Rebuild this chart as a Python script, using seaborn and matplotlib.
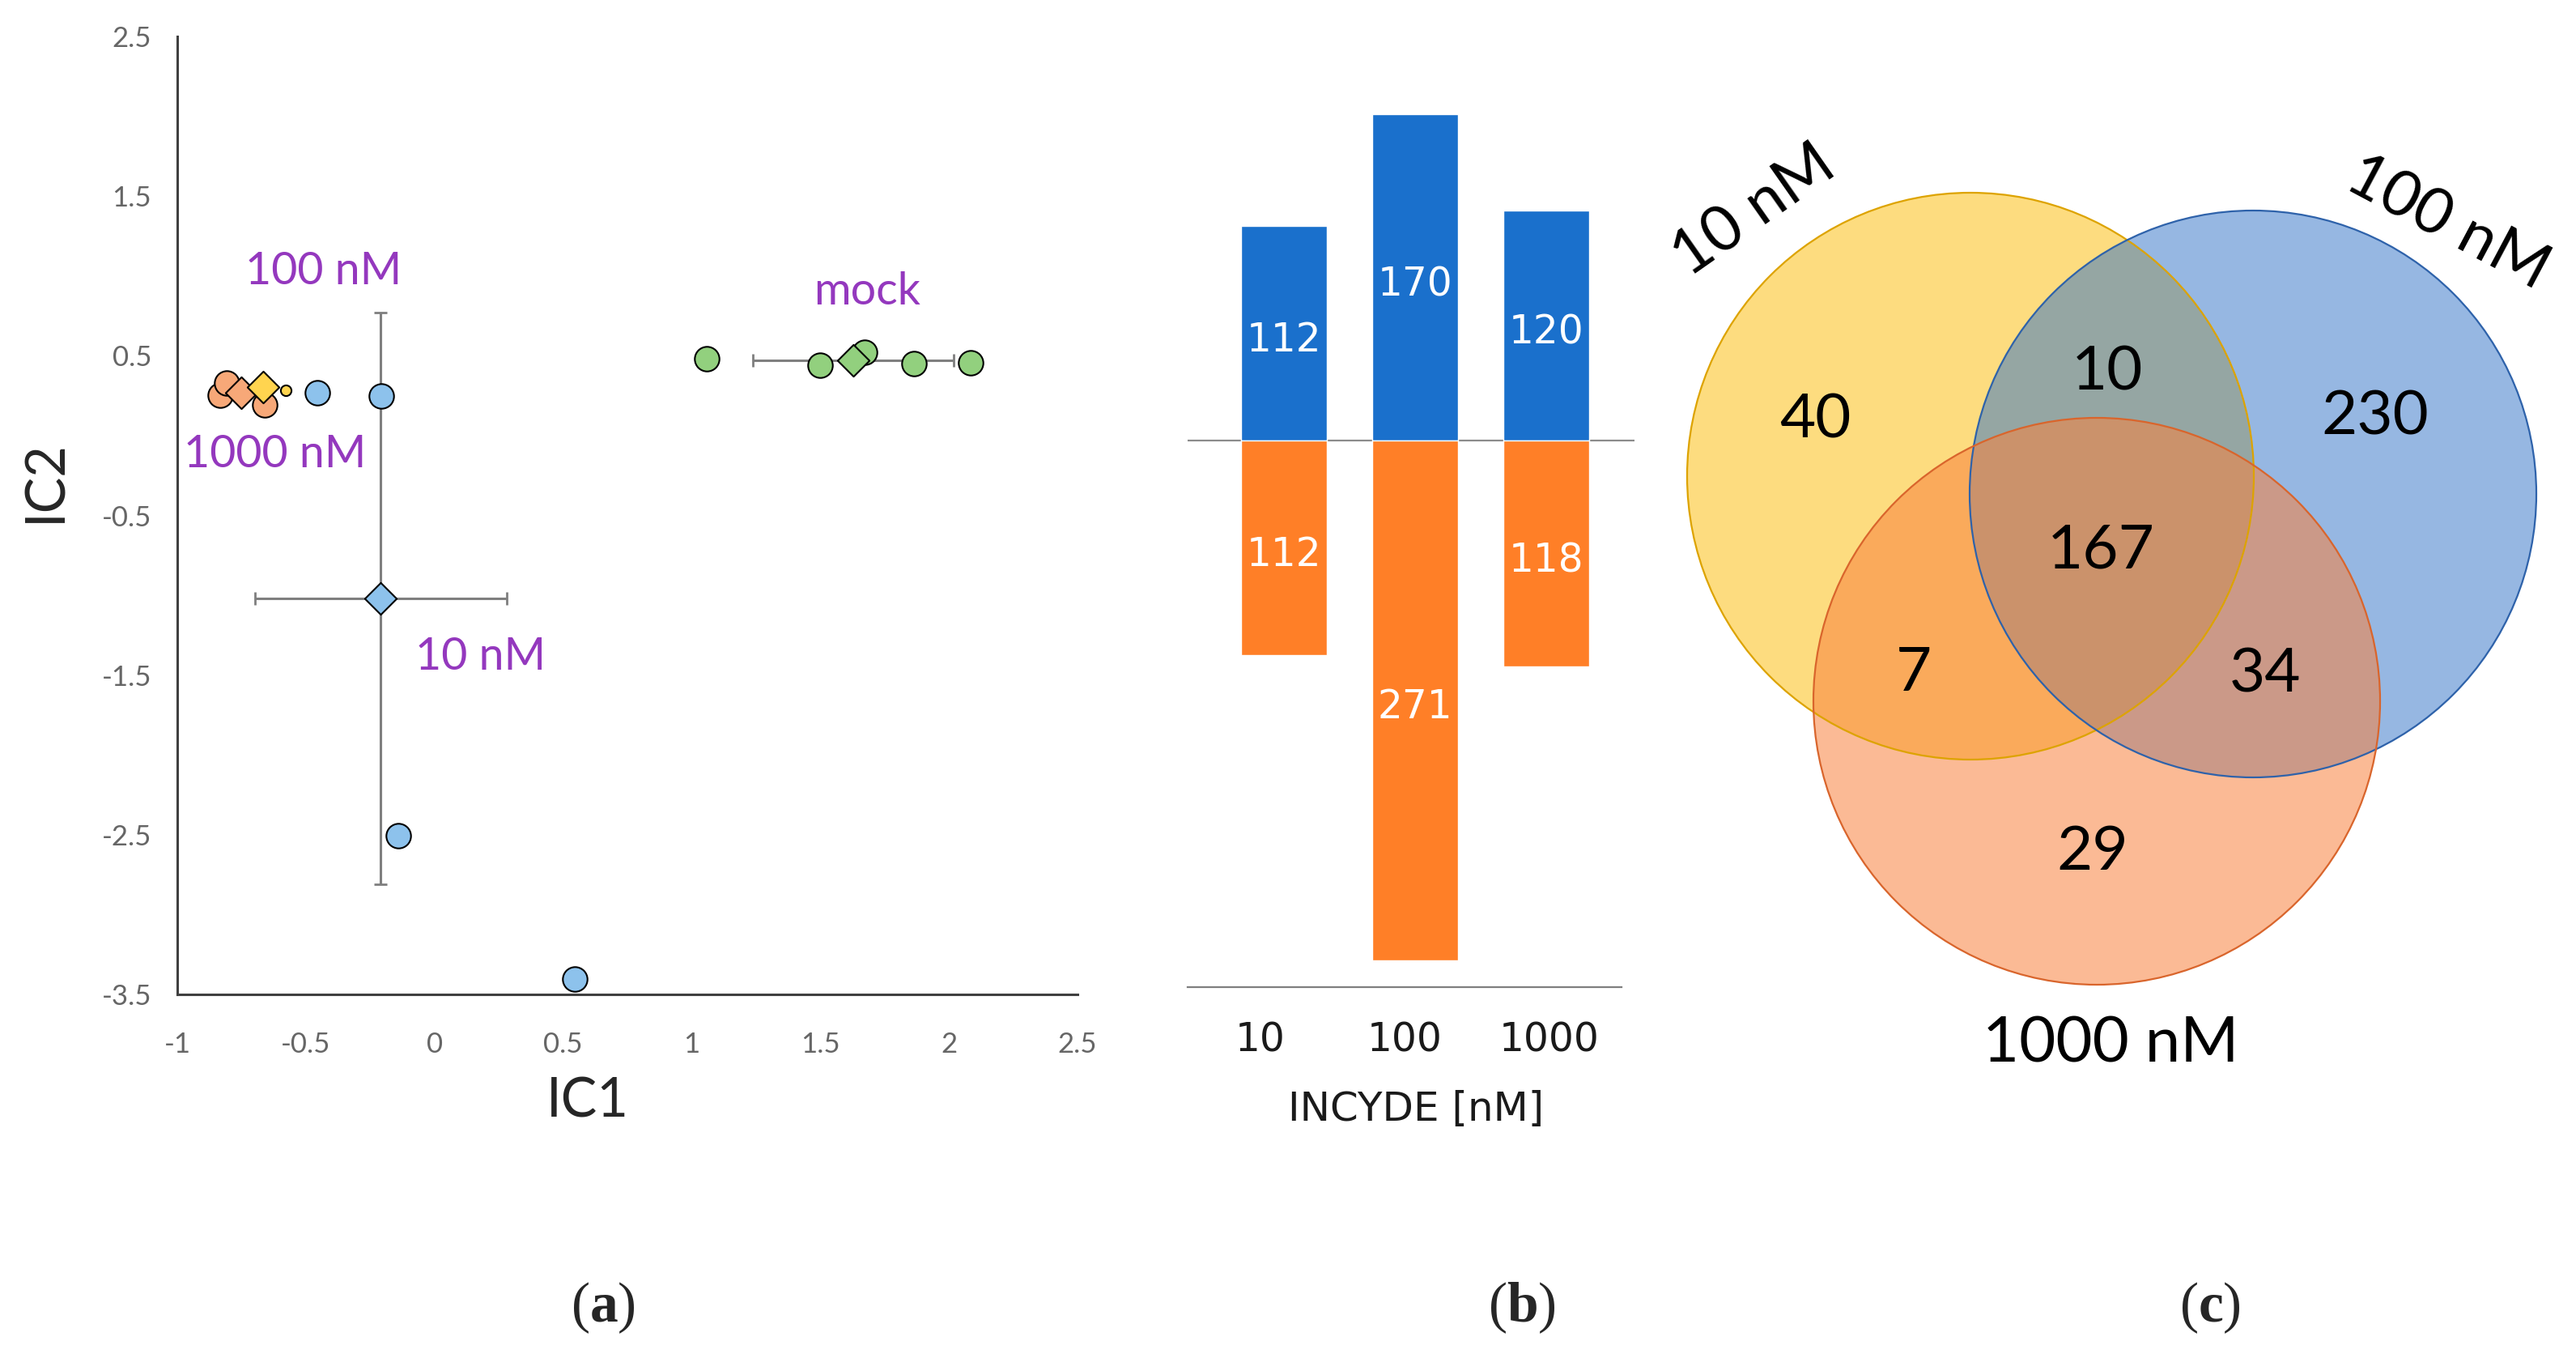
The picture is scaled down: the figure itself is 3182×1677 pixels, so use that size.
import numpy as np
import matplotlib
matplotlib.use('Agg')
import matplotlib.pyplot as plt
import seaborn as sns
from matplotlib.patches import Circle

# ---------------- datos (a): puntuaciones IC1 / IC2 ----------------
mock_ic1 = [1.057, 1.498, 1.672, 1.863, 2.084]
mock_ic2 = [0.483, 0.443, 0.522, 0.450, 0.455]
nm10_ic1 = [-0.456, -0.207, -0.142, 0.545]
nm10_ic2 = [0.269, 0.247, -2.507, -3.403]
nm100_ic1 = [-0.579]
nm100_ic2 = [0.286]
nm1000_ic1 = [-0.834, -0.808, -0.661]
nm1000_ic2 = [0.252, 0.330, 0.193]

# medias por grupo y desviacion
grupos = ['1000 nM', '100 nM', '10 nM', 'mock']
media_ic1 = [-0.750, -0.666, -0.209, 1.629]
media_ic2 = [0.269, 0.303, -1.019, 0.472]
sd_ic1 = [0.0, 0.0, 0.49, 0.39]
sd_ic2 = [0.0, 0.0, 1.79, 0.0]

# ---------------- datos (b): genes up / down ----------------
dosis = ['10', '100', '1000']
genes_up = [112, 170, 120]
genes_down = [112, 271, 118]

# ---------------- datos (c): venn ----------------
venn_regiones = ['10', '100', '1000', '10&100', '10&1000', '100&1000', 'todos']
venn_conteos = [40, 230, 29, 10, 7, 34, 167]
venn_nombres = ['10 nM', '100 nM', '1000 nM']

sns.set_style('white')
plt.rcParams['font.family'] = ['Lato', 'DejaVu Sans']
plt.rcParams['axes.unicode_minus'] = False
plt.rcParams['mathtext.fontset'] = 'custom'
plt.rcParams['mathtext.rm'] = 'Liberation Serif'
plt.rcParams['mathtext.bf'] = 'Liberation Serif:bold'

W, H = 3182, 1677
fig = plt.figure(figsize=(W / 100, H / 100), dpi=100)


def rect(l, t, r, b):
    return [l / W, 1 - b / H, (r - l) / W, (b - t) / H]


morado = '#9438BE'

# ================= (a) =================
ax = fig.add_axes(rect(219, 45, 1331, 1228))
ax.errorbar(np.array(media_ic1)[2:], np.array(media_ic2)[2:],
            xerr=np.array(sd_ic1)[2:], yerr=np.array(sd_ic2)[2:],
            fmt='none', ecolor='#7f7f7f', elinewidth=2.2, capsize=6, capthick=2, zorder=1)

kw = dict(edgecolor='black', linewidth=1.5, zorder=3, legend=False, ax=ax)
sns.scatterplot(x=mock_ic1, y=mock_ic2, color='#92D07E', marker='o', s=480, **kw)
sns.scatterplot(x=nm10_ic1, y=nm10_ic2, color='#8DC2EC', marker='o', s=480, **kw)
sns.scatterplot(x=nm1000_ic1, y=nm1000_ic2, color='#F7A878', marker='o', s=480, **kw)
sns.scatterplot(x=nm100_ic1, y=nm100_ic2, color='#FFD44F', marker='o', s=90, **kw)
colores_media = ['#F7A878', '#FFD44F', '#8DC2EC', '#92D07E']
for i in range(len(grupos)):
    sns.scatterplot(x=[media_ic1[i]], y=[media_ic2[i]], color=colores_media[i],
                    marker='D', s=400, **kw)

ax.set_xlim(-1, 2.5)
ax.set_ylim(-3.5, 2.5)
ax.set_xticks(np.arange(-1, 2.51, 0.5))
ax.set_yticks(np.arange(-3.5, 2.51, 1.0))
ax.set_xticklabels(['{:g}'.format(v) for v in np.arange(-1, 2.51, 0.5)])
ax.set_yticklabels(['{:g}'.format(v) for v in np.arange(-3.5, 2.51, 1.0)])
ax.tick_params(axis='both', labelsize=25, labelcolor='#666666', color='#404040',
               length=11, width=2.2, direction='out')
ax.tick_params(axis='x', pad=22)
ax.tick_params(axis='y', pad=12)
for s in ['top', 'right']:
    ax.spines[s].set_visible(False)
for s in ['left', 'bottom']:
    ax.spines[s].set_color('#404040')
    ax.spines[s].set_linewidth(2.2)
ax.set_xlabel('IC1', fontsize=48, color='#262626')
ax.set_ylabel('IC2', fontsize=48, color='#262626')
ax.xaxis.set_label_coords(0.456, -0.112)
ax.xaxis.label.set_va('center')
ax.yaxis.set_label_coords(-0.146, 0.536)
ax.yaxis.label.set_va('center')

ax.text(-0.430, 1.029, '100 nM', color=morado, fontsize=40, ha='center', va='center')
ax.text(-0.619, -0.120, '1000 nM', color=morado, fontsize=40, ha='center', va='center')
ax.text(0.180, -1.388, '10 nM', color=morado, fontsize=40, ha='center', va='center')
ax.text(1.682, 0.900, 'mock', color=morado, fontsize=40, ha='center', va='center')

# ================= (b) =================
axb = fig.add_axes(rect(1467, 94, 2019, 1219))
sns.barplot(x=dosis, y=genes_up, color='#1A70CC', saturation=1, width=0.66,
            errorbar=None, ax=axb)
sns.barplot(x=dosis, y=[-v for v in genes_down], color='#FF7F27', saturation=1,
            width=0.66, errorbar=None, ax=axb)
axb.bar_label(axb.containers[0], labels=[str(v) for v in genes_up], label_type='center',
              color='white', fontsize=35, family='DejaVu Sans', padding=-6)
axb.bar_label(axb.containers[1], labels=[str(v) for v in genes_down], label_type='center',
              color='white', fontsize=35, family='DejaVu Sans', padding=6)
x0, x1 = -0.735, 2.574
axb.set_xlim(x0, 2.673)
axb.set_ylim(-285, 190)
axb.axhline(0, color='#8c8c8c', lw=1.6, zorder=0.5)
for s in ['top', 'right', 'left']:
    axb.spines[s].set_visible(False)
axb.spines['bottom'].set_color('#7f7f7f')
axb.spines['bottom'].set_linewidth(1.6)
axb.spines['bottom'].set_bounds(x0, x1)
axb.set_yticks([])
# etiquetas centradas en tercios del eje inferior, como en el original
paso = (x1 - x0) / len(dosis)
axb.set_xticks([x0 + paso * (i + 0.5) for i in range(len(dosis))], dosis)
axb.tick_params(axis='x', length=0, pad=30)
for t in axb.get_xticklabels():
    t.set_fontsize(35)
    t.set_family('DejaVu Sans')
    t.set_color('#1a1a1a')
axb.set_xlabel('INCYDE [nM]', fontsize=36, family='DejaVu Sans', color='#1a1a1a')
axb.xaxis.set_label_coords(0.511, -0.134)
axb.xaxis.label.set_va('center')

# ================= (c) =================
axc = fig.add_axes([2000 / W, 0, (W - 2000) / W, 1])
axc.set_xlim(2000, W)
axc.set_ylim(H, 0)
axc.axis('off')

circulos = [(2434, 588), (2783, 610), (2590, 866)]
radio = 350
relleno = ['#FDBB00', '#2F71C7', '#F8823E']
alfas = [0.5, 0.5, 0.55]
borde = ['#DDA300', '#2E62AA', '#D9652C']
for (cx, cy), fc, a in zip(circulos, relleno, alfas):
    axc.add_patch(Circle((cx, cy), radio, facecolor=fc, alpha=a, edgecolor='none'))
for (cx, cy), ec in zip(circulos, borde):
    axc.add_patch(Circle((cx, cy), radio, facecolor='none', edgecolor=ec, lw=1.6))

pos_regiones = {'10': (2242, 519), '100': (2934, 515), '1000': (2585, 1053),
                '10&100': (2603, 460), '10&1000': (2364, 831), '100&1000': (2798, 833),
                'todos': (2595, 680)}
for reg, n in zip(venn_regiones, venn_conteos):
    x, y = pos_regiones[reg]
    axc.text(x, y, str(n), fontsize=55, ha='center', va='center', color='black')

pos_nombres = [(2167, 261, 35), (3023, 276, -28), (2607, 1290, 0)]
for nom, (x, y, rot) in zip(venn_nombres, pos_nombres):
    axc.text(x, y, nom, fontsize=56, ha='center', va='center', rotation=rot,
             rotation_mode='anchor', color='black')

# ---------------- letras de panel ----------------
for letra, x in zip(['a', 'b', 'c'], [745, 1880, 2730]):
    fig.text(x / W, 1 - 1615 / H, '($\\mathbf{' + letra + '}$)', fontsize=50,
             family='Liberation Serif', ha='center', va='center')

fig.savefig('out.png', dpi=100)
